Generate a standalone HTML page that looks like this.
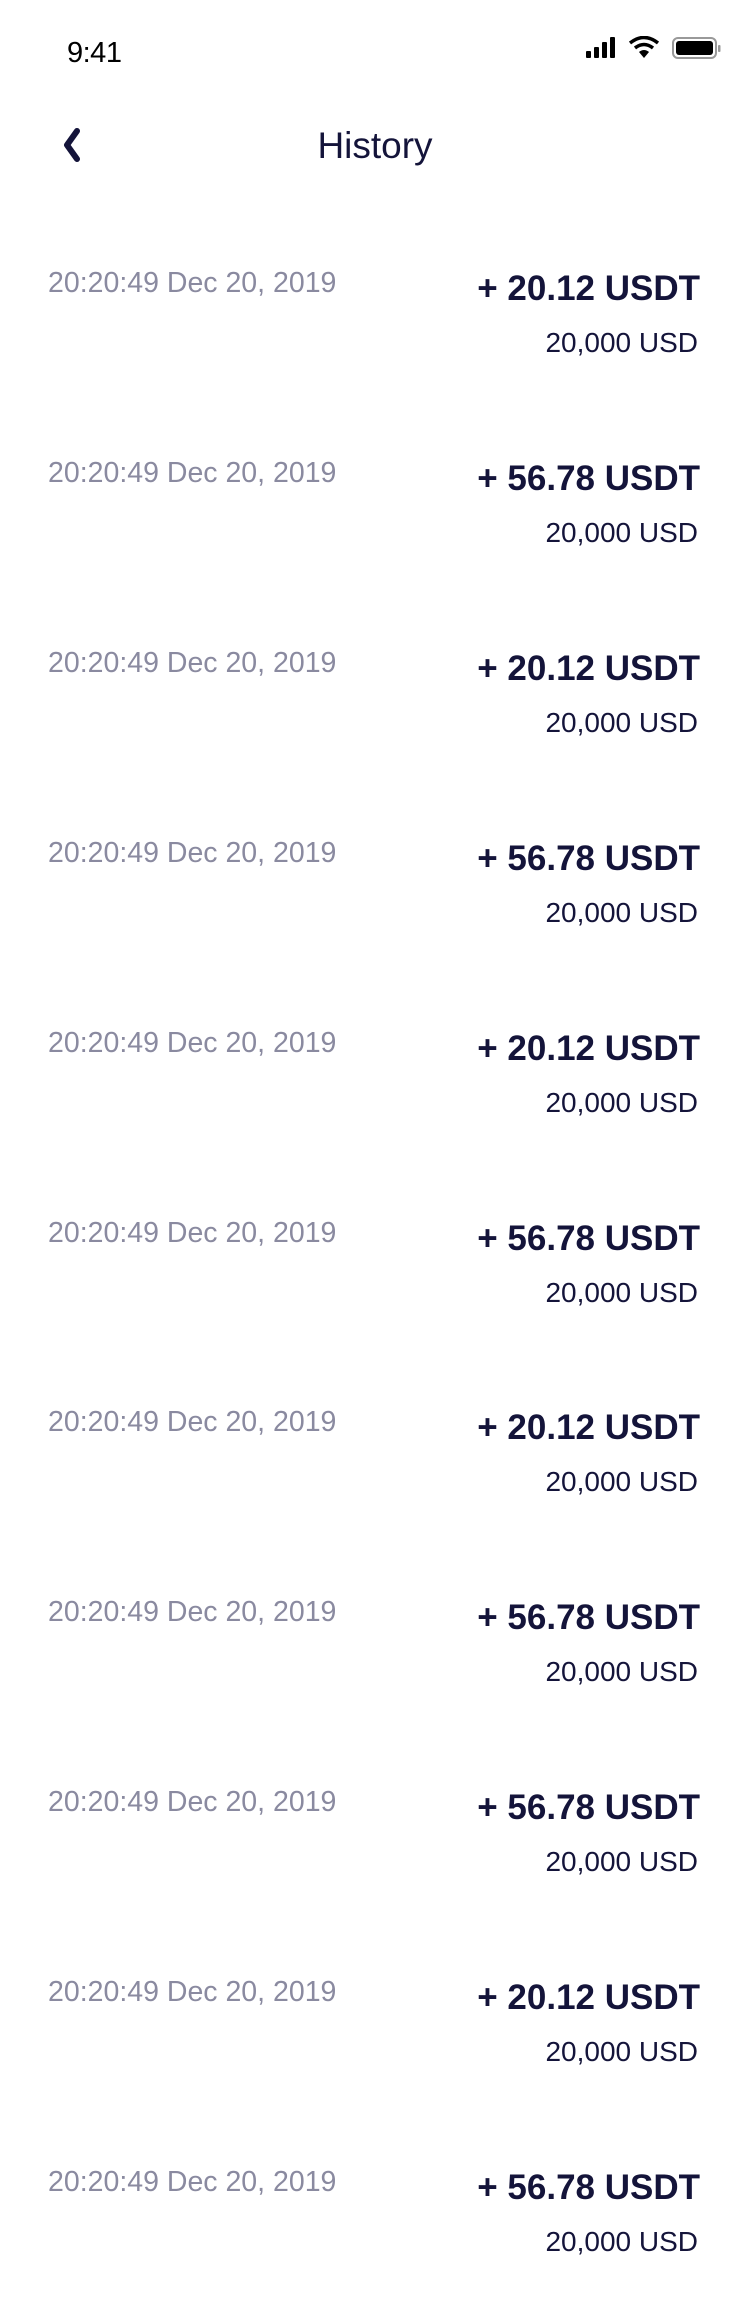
<!DOCTYPE html>
<html><head><meta charset="utf-8">
<style>
html,body{margin:0;padding:0;background:#fff;}
body{width:750px;height:2308px;position:relative;overflow:hidden;font-family:"Liberation Sans",sans-serif;color:#14143a;}
.abs{position:absolute;}
.time{left:67px;top:37px;font-size:29px;color:#000;letter-spacing:-0.5px;}
.title{left:0;width:750px;text-align:center;top:125px;font-size:37px;color:#14143a;}
.date{left:48px;font-size:28.5px;color:#8a8aa0;line-height:30px;}
.amt{right:50px;font-size:35px;font-weight:bold;color:#14143a;line-height:40px;}
.usd{right:52px;font-size:28px;color:#14143a;line-height:32px;}
</style></head>
<body>
<div class="abs time">9:41</div>
<svg class="abs" style="left:586px;top:36px" width="135" height="26">
  <rect x="0" y="15" width="5" height="7" rx="1" fill="#000"/>
  <rect x="8" y="11" width="5" height="11" rx="1" fill="#000"/>
  <rect x="16" y="6" width="5" height="16" rx="1" fill="#000"/>
  <rect x="24" y="1" width="5" height="21" rx="1" fill="#000"/>
  <path d="M44 7 Q58 -4 72 7" stroke="#000" stroke-width="3.5" fill="none"/>
  <path d="M49 12 Q58 5 67 12" stroke="#000" stroke-width="3.5" fill="none"/>
  <path d="M53 16 L58 22 L63 16 Q58 12 53 16Z" fill="#000"/>
  <rect x="87" y="2" width="43" height="20" rx="5" stroke="#999" stroke-width="2" fill="none"/>
  <rect x="90" y="5" width="37" height="14" rx="3" fill="#000"/>
  <rect x="132" y="9" width="2.5" height="7" rx="1" fill="#999"/>
</svg>
<svg class="abs" style="left:58px;top:126px" width="30" height="40">
  <path d="M19 5 L9 19 L19 33" stroke="#14143a" stroke-width="6" fill="none" stroke-linecap="round" stroke-linejoin="round"/>
</svg>
<div class="abs title">History</div>
<div id="list"></div>
<script>
const dates = ["20:20:49 Dec 20, 2019","20:20:49 Dec 20, 2019","20:20:49 Dec 20, 2019","20:20:49 Dec 20, 2019","20:20:49 Dec 20, 2019","20:20:49 Dec 20, 2019","20:20:49 Dec 20, 2019","20:20:49 Dec 20, 2019","20:20:49 Dec 20, 2019","20:20:49 Dec 20, 2019","20:20:49 Dec 20, 2019"];
const amounts = ["20.12","56.78","20.12","56.78","20.12","56.78","20.12","56.78","56.78","20.12","56.78"];
const usds = ["20,000","20,000","20,000","20,000","20,000","20,000","20,000","20,000","20,000","20,000","20,000"];
const list = document.getElementById('list');
for (let i = 0; i < amounts.length; i++) {
  const y = 283 + i * 189.9;
  const d = document.createElement('div');
  d.className = 'abs date';
  d.style.top = (y - 15) + 'px';
  d.textContent = dates[i];
  
  
  list.appendChild(d);
  const a = document.createElement('div');
  a.className = 'abs amt';
  a.style.top = (y - 14) + 'px';
  a.textContent = '+ ' + amounts[i] + ' USDT';
  
  
  list.appendChild(a);
  const u = document.createElement('div');
  u.className = 'abs usd';
  u.style.top = (y + 44) + 'px';
  u.textContent = usds[i] + ' USD';
  
  
  list.appendChild(u);
}
</script>
</body></html>
